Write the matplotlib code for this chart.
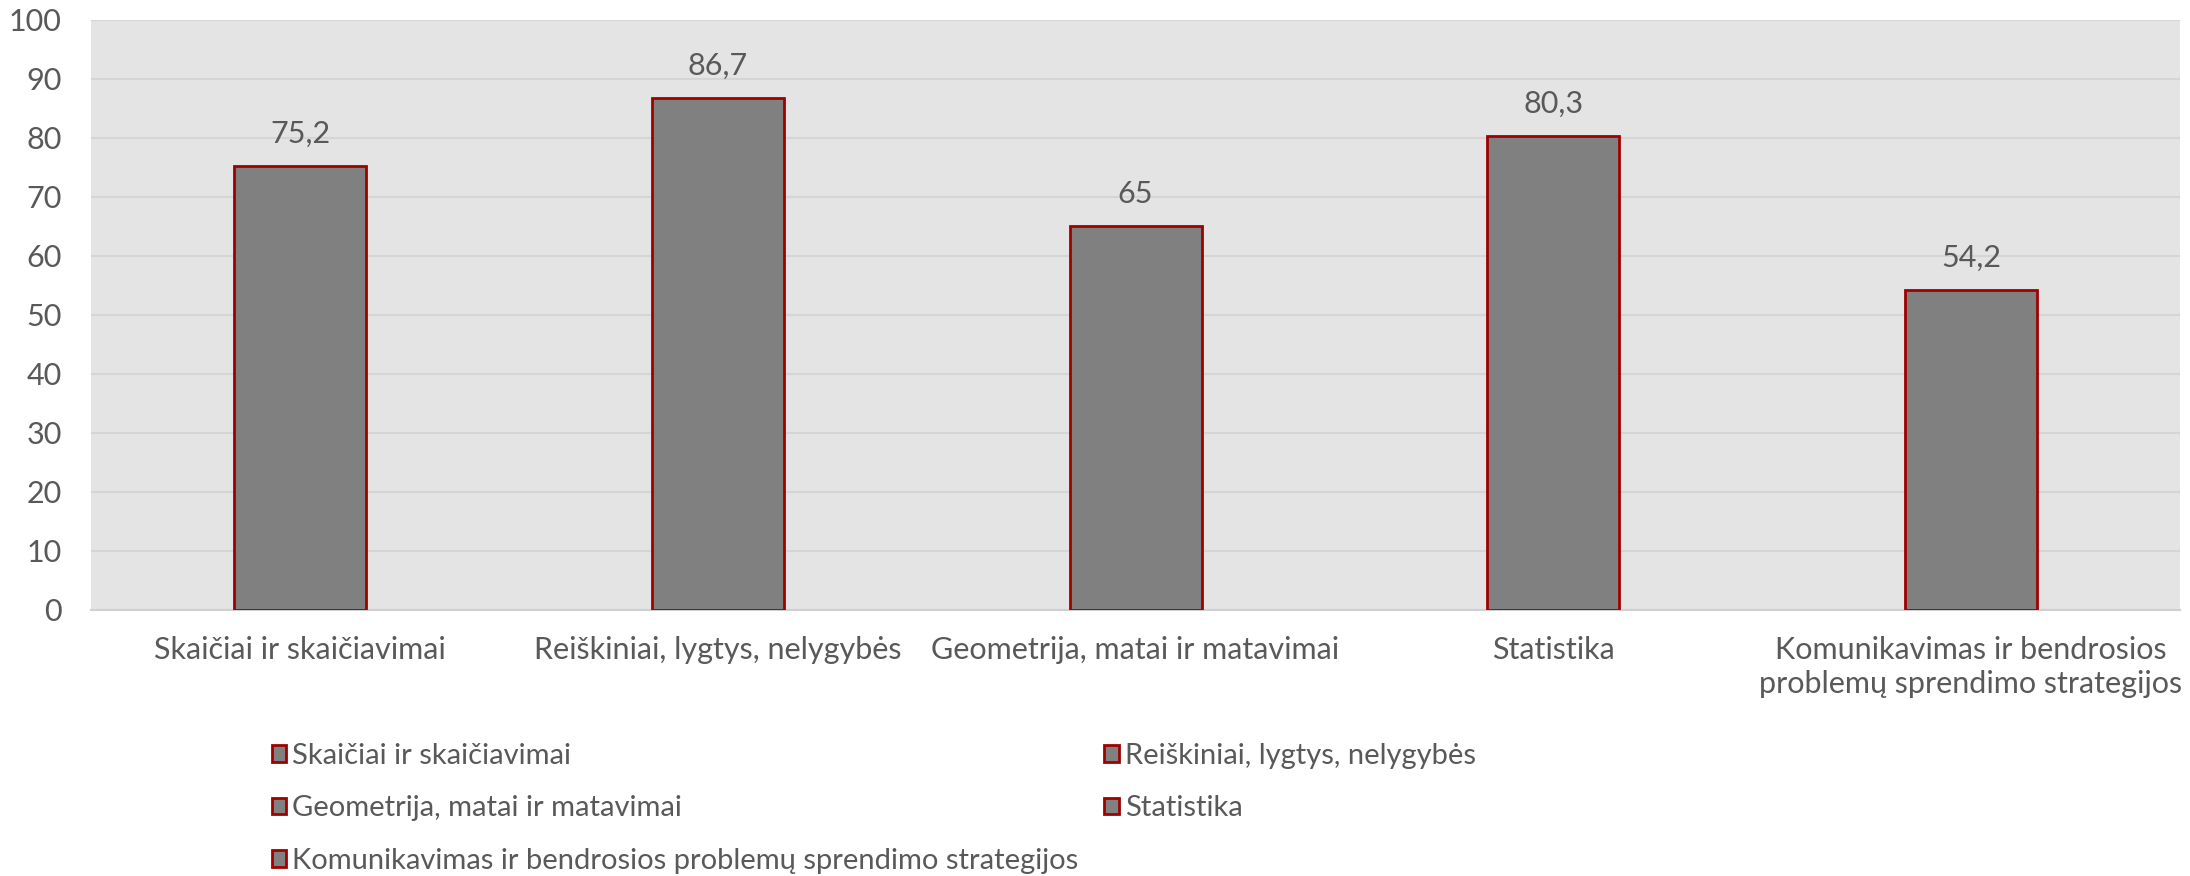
import matplotlib
matplotlib.use('Agg')
import matplotlib.pyplot as plt
from matplotlib.patches import Patch

plt.rcParams['font.family'] = ['Lato', 'DejaVu Sans']

categories = ['Skaičiai ir skaičiavimai', 'Reiškiniai, lygtys, nelygybės',
              'Geometrija, matai ir matavimai', 'Statistika',
              'Komunikavimas ir bendrosios problemų sprendimo strategijos']
tick_labels = ['Skaičiai ir skaičiavimai', 'Reiškiniai, lygtys, nelygybės',
               'Geometrija, matai ir matavimai', 'Statistika',
               'Komunikavimas ir bendrosios\nproblemų sprendimo strategijos']
values = [75.2, 86.7, 65, 80.3, 54.2]
value_labels = ['75,2', '86,7', '65', '80,3', '54,2']

TEXT = '#595959'
BAR = '#808080'
EDGE = '#A00000'
BG = '#E4E4E4'
GRID = '#D5D5D5'

fig = plt.figure(figsize=(21.9, 8.76), dpi=100)
ax = fig.add_axes([0.0416, 0.3037, 0.9538, 0.6735])
ax.set_facecolor(BG)

x = range(len(categories))
for i, (cat, v, lab) in enumerate(zip(categories, values, value_labels)):
    ax.bar(i, v, width=0.316, color=BAR, edgecolor=EDGE, linewidth=2, label=cat, zorder=3)
    ax.text(i, v + 3.2, lab, ha='center', va='bottom', fontsize=22, color=TEXT)

ax.set_xlim(-0.5, len(categories) - 0.5)
ax.set_ylim(0, 100)
ax.set_yticks(range(0, 101, 10))
ax.set_xticks(list(x))
ax.set_xticklabels(tick_labels, fontsize=22, color=TEXT, linespacing=1.25)
ax.tick_params(axis='y', length=0, pad=21, labelsize=22, labelcolor=TEXT)
ax.tick_params(axis='x', length=0, pad=19)
ax.yaxis.grid(True, color=GRID, linewidth=1.5, zorder=0)
ax.set_axisbelow(True)
for s in ['top', 'right', 'left']:
    ax.spines[s].set_visible(False)
ax.spines['bottom'].set_color('#D0D0D0')
ax.spines['bottom'].set_linewidth(1.5)

# legend filled row by row (matplotlib fills column-wise)
order = [0, 2, 4, 1, 3]
handles = [Patch(facecolor=BAR, edgecolor=EDGE, linewidth=2) for _ in order]
labels = [categories[k] for k in order]
leg = fig.legend(handles, labels, loc='upper left', bbox_to_anchor=(0.124, 0.152),
                 ncol=2, frameon=False, fontsize=21, labelcolor=TEXT,
                 handlelength=0.5, handleheight=0.5, handletextpad=0.2,
                 columnspacing=0.9, labelspacing=0.91, borderaxespad=0, borderpad=0)

fig.savefig('out.png', dpi=100, facecolor='white')
